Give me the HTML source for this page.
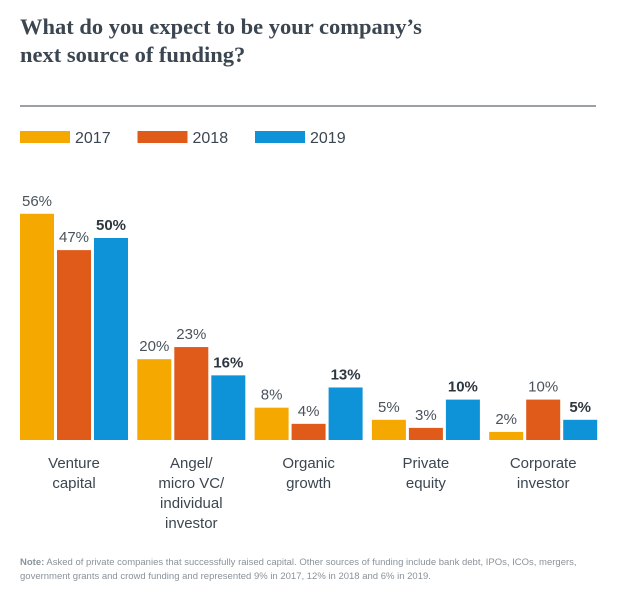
<!DOCTYPE html>
<html><head><meta charset="utf-8"><style>
body{margin:0;background:#fff;width:621px;height:587px;overflow:hidden;font-family:"Liberation Sans",sans-serif}
</style></head><body>
<svg width="621" height="587">
<text x="20" y="34" font-family="Liberation Serif, serif" font-weight="bold" font-size="22.5" fill="#3b4650">What do you expect to be your company’s</text>
<text x="20" y="62" font-family="Liberation Serif, serif" font-weight="bold" font-size="22.5" fill="#3b4650">next source of funding?</text>
<rect x="20" y="105" width="576" height="2" fill="#9aa0a6"/>
<g id="legend"></g>
<g id="bars"></g>
<g id="labels"></g>
<text x="20" y="565" font-size="9.5" fill="#8a9299"><tspan font-weight="bold">Note:</tspan> Asked of private companies that successfully raised capital. Other sources of funding include bank debt, IPOs, ICOs, mergers,</text>
<text x="20" y="579" font-size="9.5" fill="#8a9299">government grants and crowd funding and represented 9% in 2017, 12% in 2018 and 6% in 2019.</text>
</svg>
<script>
const categories=[["Venture","capital"],["Angel/","micro VC/","individual","investor"],["Organic","growth"],["Private","equity"],["Corporate","investor"]];
const years=["2017","2018","2019"];
const v2017=[56,20,8,5,2];
const v2018=[47,23,4,3,10];
const v2019=[50,16,13,10,5];
const series=[v2017,v2018,v2019];
const colors=["#f5a800","#e05a1a","#0e93d8"];
const NS="http://www.w3.org/2000/svg";
const base=440,scale=4.04,gx0=20,gstep=117.3,bw=34,bgap=3;
const yPos=v=>base-v*scale;
const xPos=(g,s)=>gx0+g*gstep+s*(bw+bgap);
function mk(t,a){const e=document.createElementNS(NS,t);for(const k in a)e.setAttribute(k,a[k]);return e;}
const bars=document.getElementById('bars'),labs=document.getElementById('labels'),leg=document.getElementById('legend');
years.forEach((y,s)=>{
  const sx=20+s*117.5;
  const r=mk('rect',{x:sx,y:131,width:50,height:12,fill:colors[s]});
  
  
  leg.appendChild(r);
  const t=mk('text',{x:sx+55,y:143,'font-size':16,fill:'#3b4650'});
  t.textContent=y;
  
  
  leg.appendChild(t);
});
categories.forEach((c,g)=>{
  series.forEach((arr,s)=>{
    const v=arr[g],x=xPos(g,s),y=yPos(v);
    const r=mk('rect',{x:x,y:y,width:bw,height:base-y,fill:colors[s]});
    
    
    bars.appendChild(r);
    const t=mk('text',{x:x+bw/2,y:y-8,'text-anchor':'middle','font-size':15,fill:s==2?'#2e3740':'#4a535c','font-weight':s==2?'bold':'normal'});
    t.textContent=v+'%';
    
    
    bars.appendChild(t);
  });
  const cx=xPos(g,0)+(3*bw+2*bgap)/2;
  c.forEach((line,i)=>{
    const t=mk('text',{x:cx,y:468+i*20,'text-anchor':'middle','font-size':15,fill:'#3b4650'});
    t.textContent=line;
    
    
    labs.appendChild(t);
  });
});
</script>
</body></html>
